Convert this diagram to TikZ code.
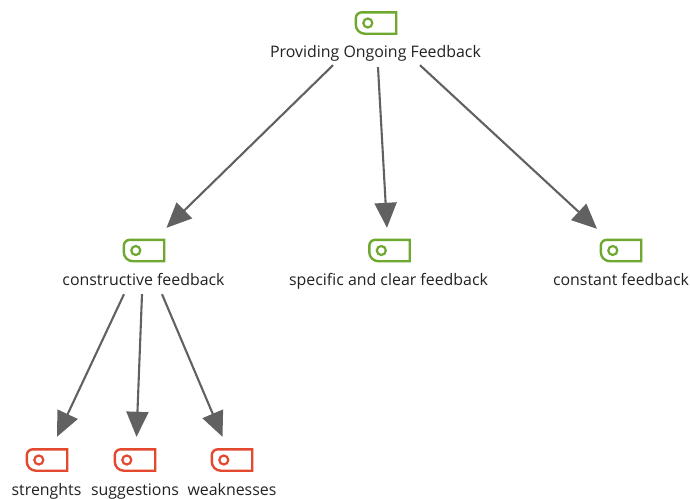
\documentclass[tikz,border=0pt]{standalone}
\usepackage{fontspec}
\setmainfont{Open Sans}
\usetikzlibrary{arrows.meta}
\definecolor{tagGreen}{HTML}{6FA82F}
\definecolor{tagRed}{HTML}{E2492F}
\definecolor{linkGrey}{HTML}{616161}
\definecolor{labelInk}{HTML}{222222}
\tikzset{
  tagspot/.style={inner sep=0pt,minimum width=40pt,minimum height=21pt},
  taglabel/.style={inner sep=0pt,text=labelInk,font=\fontsize{15.9}{18}\selectfont,text height=11pt,text depth=3pt},
  link/.style={draw=linkGrey,line width=2.1pt,-{Triangle[length=25pt,width=22pt]},shorten >=0pt},
}
% centre x, centre y, node name, colour
\newcommand{\tagicon}[4]{%
  \node[tagspot] (#3) at (#1,#2) {};
  \draw[#4,line width=2.4pt,line join=miter]
    (#3.north east) -- (#3.south east) -- ([xshift=9pt]#3.south west)
    arc[start angle=270,end angle=180,radius=9pt]
    -- ([yshift=-6pt]#3.north west)
    arc[start angle=180,end angle=90,radius=6pt] -- cycle;
  \draw[#4,line width=2.2pt] ([xshift=12pt]#3.west) circle[radius=4.5pt];
}
\begin{document}
\begin{tikzpicture}[x=1pt,y=-1pt]
\useasboundingbox (0,0) rectangle (690,498);
\fill[white] (0,0) rectangle (690,498);
\tagicon{376}{23}{rootIcon}{tagGreen}
\tagicon{144}{250.5}{consIcon}{tagGreen}
\tagicon{389.5}{250.5}{specIcon}{tagGreen}
\tagicon{621}{250.5}{contIcon}{tagGreen}
\tagicon{47}{460}{strIcon}{tagRed}
\tagicon{135}{460}{sugIcon}{tagRed}
\tagicon{232}{460}{weakIcon}{tagRed}
\node[taglabel] (root) at (375.5,53.5) {Providing Ongoing Feedback};
\node[taglabel] (cons) at (143.5,281.5) {constructive feedback};
\node[taglabel] (spec) at (388.5,281.5) {specific and clear feedback};
\node[taglabel] (cont) at (621,281.5) {constant feedback};
\node[taglabel] (str) at (46.5,491.5) {strenghts};
\node[taglabel] (sug) at (135,491.5) {suggestions};
\node[taglabel] (weak) at (232,491.5) {weaknesses};
\draw[link] ([shift={(-42.5,4.5)}]root.south) -- ([shift={(22.5,-12)}]consIcon.north);
\draw[link] ([shift={(2.5,6.5)}]root.south) -- ([shift={(-2.5,-12)}]specIcon.north);
\draw[link] ([shift={(44.5,4.5)}]root.south) -- ([shift={(-24,-11)}]contIcon.north);
\draw[link] ([shift={(-19.5,5.5)}]cons.south) -- ([shift={(10,-12.5)}]strIcon.north);
\draw[link] ([shift={(-1.5,5.5)}]cons.south) -- ([shift={(1.5,-12.5)}]sugIcon.north);
\draw[link] ([shift={(18.5,5.5)}]cons.south) -- ([shift={(-9.5,-12.5)}]weakIcon.north);
\end{tikzpicture}
\end{document}
